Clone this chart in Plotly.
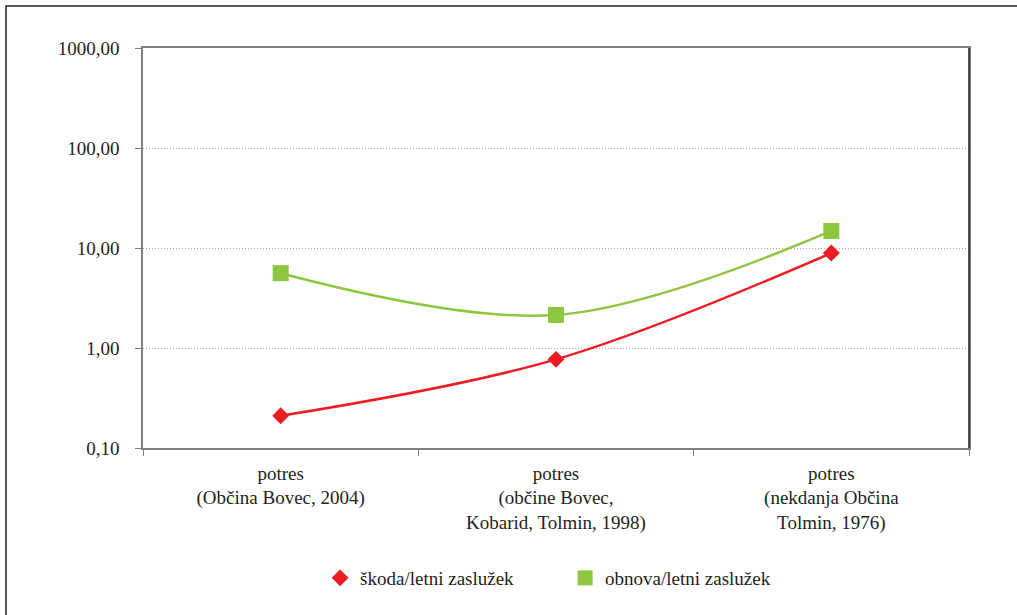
import plotly.graph_objects as go

categories = [
    "potres<br>(Občina Bovec, 2004)",
    "potres<br>(občine Bovec,<br>Kobarid, Tolmin, 1998)",
    "potres<br>(nekdanja Občina<br>Tolmin, 1976)",
]
skoda = [0.21, 0.77, 8.9]
obnova = [5.6, 2.14, 14.8]
series_names = ["škoda/letni zaslužek", "obnova/letni zaslužek"]
y_tickvals = [0.1, 1, 10, 100, 1000]
y_ticktext = ["0,10", "1,00", "10,00", "100,00", "1000,00"]

RED = "#ED1C24"
GREEN = "#8DC63F"
FONT = "Liberation Serif, DejaVu Serif, serif"
TXT = "#231F20"
FS = 19

fig = go.Figure()
fig.add_trace(go.Scatter(
    x=categories, y=obnova, mode="lines+markers", line=dict(color=GREEN, width=2.5, shape="spline"),
    marker=dict(symbol="square", size=16, color=GREEN), showlegend=False))
fig.add_trace(go.Scatter(
    x=categories, y=skoda, mode="lines+markers", line=dict(color=RED, width=2.5, shape="spline"),
    marker=dict(symbol="diamond", size=13, color=RED), showlegend=False))
# legend-only entries (marker only)
fig.add_trace(go.Scatter(x=[None], y=[None], mode="markers", name=series_names[0],
                         marker=dict(symbol="diamond", size=13, color=RED)))
fig.add_trace(go.Scatter(x=[None], y=[None], mode="markers", name=series_names[1],
                         marker=dict(symbol="square", size=15, color=GREEN)))

fig.update_layout(
    width=1017, height=615,
    margin=dict(l=143, r=48, t=48, b=167),
    paper_bgcolor="white", plot_bgcolor="white",
    font=dict(family=FONT, size=FS, color=TXT),
    legend=dict(orientation="h", x=0.511, xanchor="center", y=-0.325, yanchor="middle",
                font=dict(family=FONT, size=FS, color=TXT), itemwidth=30, tracegroupgap=0,
                entrywidthmode="pixels", entrywidth=200),
    xaxis=dict(type="category", range=[-0.5, 2.5], showgrid=False,
               showline=True, linecolor="#7F7F7F", linewidth=1.5, mirror=True,
               ticks="outside", ticklen=6, tickcolor="#7F7F7F", tickson="boundaries",
               ticklabelstandoff=7,
               tickfont=dict(family=FONT, size=FS, color=TXT)),
    yaxis=dict(type="log", range=[-1, 3], tickvals=y_tickvals, ticktext=y_ticktext,
               showgrid=True, gridcolor="#A6A6A6", griddash="1px,2px", gridwidth=1,
               showline=True, linecolor="#7F7F7F", linewidth=1.5, mirror=True,
               ticks="outside", ticklen=6, tickcolor="#7F7F7F", zeroline=False,
               ticklabelstandoff=12,
               tickfont=dict(family=FONT, size=FS, color=TXT)),
    shapes=[
        dict(type="line", xref="paper", yref="paper", x0=1, x1=1, y0=0, y1=1,
             line=dict(color="#231F20", width=1.5)),
        dict(type="rect", xref="paper", yref="paper",
             x0=(6 - 143) / 826, x1=(1030 - 143) / 826,
             y0=(448 - 630) / 400, y1=(448 - 6) / 400,
             line=dict(color="#231F20", width=1.5)),
    ],
)

fig.write_html("out.html", config={"displayModeBar": False},
               post_script="document.body.style.margin='0';document.body.style.padding='0';")
